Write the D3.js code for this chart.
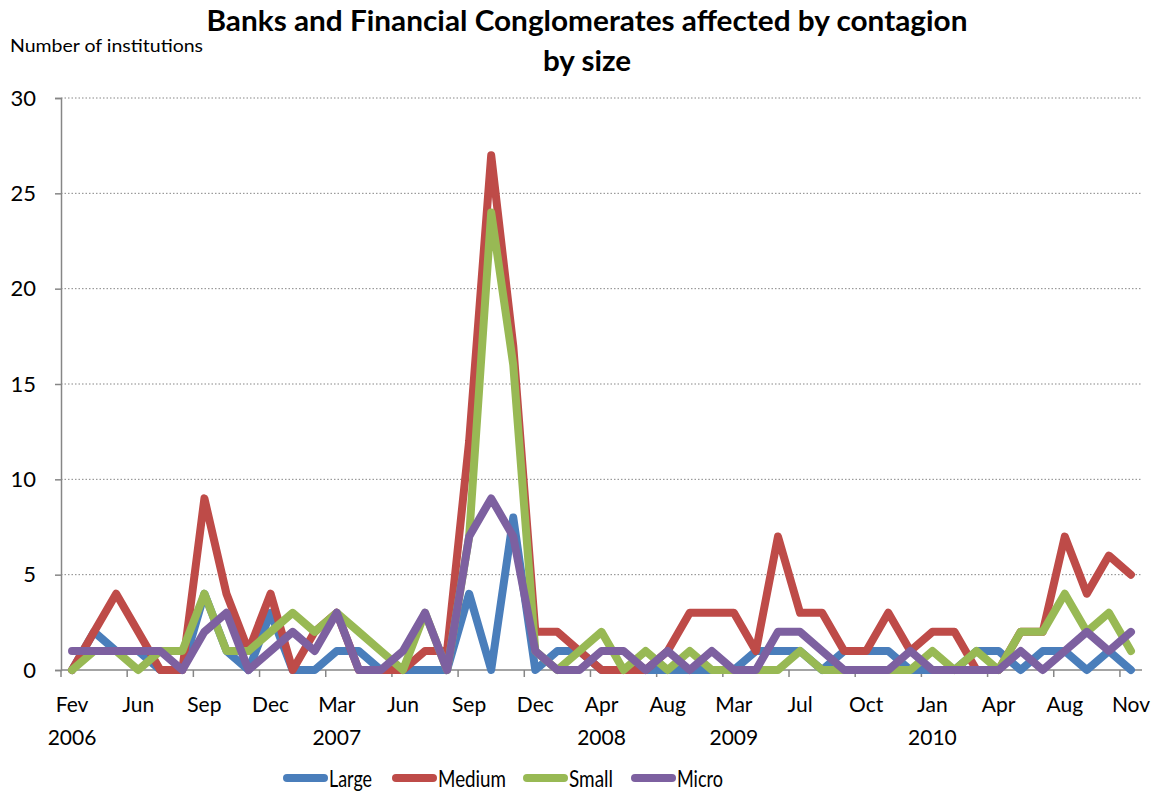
<!DOCTYPE html>
<html><head><meta charset="utf-8">
<script src="https://cdn.jsdelivr.net/npm/d3@7"></script>
<style>
html,body{margin:0;padding:0;background:#fff;}
svg{display:block;font-family:Lato,"Open Sans",sans-serif;}
</style></head>
<body><svg id="chart" width="1163" height="796"></svg>
<script>
const months = ["Fev","Apr","May","Jun","Jul","Aug","Sep","Oct","Nov","Dec","Jan","Fev","Mar","Apr","May","Jun","Jul","Aug","Sep","Oct","Nov","Dec","Jan","Mar","Apr","May","Jun","Aug","Sep","Nov","Mar","Apr","May","Jul","Aug","Sep","Oct","Nov","Dec","Jan","Fev","Mar","Apr","May","Jul","Aug","Sep","Oct","Nov"];
const yearLabels = {0:"2006",12:"2007",24:"2008",30:"2009",39:"2010"};
const large  = [0,2,1,1,0,0,4,1,0,3,0,0,1,1,0,0,0,0,4,0,8,0,1,1,0,0,0,0,0,0,0,1,1,1,0,1,1,1,0,0,0,1,1,0,1,1,0,1,0];
const medium = [0,2,4,2,0,0,9,4,1,4,0,2,3,0,0,0,1,1,12,27,17,2,2,1,0,0,0,1,3,3,3,1,7,3,3,1,1,3,1,2,2,0,0,2,2,7,4,6,5];
const small  = [0,1,1,0,1,1,4,1,1,2,3,2,3,2,1,0,3,0,7,24,16,1,0,1,2,0,1,0,1,0,0,0,0,1,0,0,0,0,0,1,0,1,0,2,2,4,2,3,1];
const micro  = [1,1,1,1,1,0,2,3,0,1,2,1,3,0,0,1,3,0,7,9,7,1,0,0,1,1,0,1,0,1,0,0,2,2,1,0,0,0,1,0,0,0,0,1,0,1,2,1,2];
const seriesNames = ["Large","Medium","Small","Micro"];
const seriesColors = ["#4A7EBB","#BE4B48","#98B954","#7D60A0"];
const yTicks = [0,5,10,15,20,25,30];
const titleLines = ["Banks and Financial Conglomerates affected by contagion","by size"];
const yAxisTitle = "Number of institutions";

const svg = d3.select("#chart");
const L = 61, R = 1142, T = 98, B = 670;
const n = months.length;
const x = d3.scaleBand().domain(d3.range(n)).range([L, R]).paddingInner(0).paddingOuter(0);
const y = d3.scaleLinear().domain([0, 30]).range([B, T]);
const grey = "#868686";

// fit text horizontally to a target width (Calibri-like narrow glyphs)
function fitWidth(sel, w) {
  sel.each(function() {
    const el = this, tw = el.getComputedTextLength();
    if (tw > 0) el.setAttribute("textLength", w), el.setAttribute("lengthAdjust", "spacingAndGlyphs");
  });
}

// gridlines
svg.append("g").selectAll("line").data(yTicks.filter(d => d > 0)).join("line")
  .attr("x1", L).attr("x2", R).attr("y1", d => y(d)).attr("y2", d => y(d))
  .attr("stroke", grey).attr("stroke-width", 1).attr("stroke-dasharray", "1.5,2");

// y axis
const yAxis = d3.axisLeft(y).tickValues(yTicks).tickSize(6).tickPadding(8);
const gy = svg.append("g").attr("transform", `translate(${L},0)`).call(yAxis);
gy.select(".domain").attr("stroke", grey).attr("stroke-width", 1.5);
gy.selectAll(".tick line").attr("stroke", grey).attr("stroke-width", 1.5);
gy.selectAll(".tick text").attr("font-size", 22).attr("fill", "#000").attr("font-family", "Lato").attr("dx", -11);

// x axis
const bw = x.bandwidth();
const gx = svg.append("g");
gx.append("line").attr("x1", L).attr("x2", R).attr("y1", B).attr("y2", B).attr("stroke", grey).attr("stroke-width", 1.5);
const tickIdx = d3.range(0, n, 3);
gx.selectAll("line.tk").data(tickIdx).join("line").attr("class","tk")
  .attr("x1", d => x(d)).attr("x2", d => x(d)).attr("y1", B).attr("y2", B + 7)
  .attr("stroke", grey).attr("stroke-width", 1.5);
gx.selectAll("text.mo").data(tickIdx).join("text").attr("class","mo")
  .attr("x", d => x(d) + bw / 2).attr("y", 712).attr("text-anchor", "middle")
  .attr("font-size", 21).text(d => months[d]);
gx.selectAll("text.yr").data(Object.keys(yearLabels).map(Number)).join("text").attr("class","yr")
  .attr("x", d => x(d) + bw / 2).attr("y", 745).attr("text-anchor", "middle")
  .attr("font-size", 21).text(d => yearLabels[d]);

// lines
const allSeries = [large, medium, small, micro];
const line = d3.line().x((d, i) => x(i) + bw / 2).y(d => y(d));
svg.append("g").selectAll("path").data(allSeries).join("path")
  .attr("d", d => line(d)).attr("fill", "none")
  .attr("stroke", (d, i) => seriesColors[i]).attr("stroke-width", 8)
  .attr("stroke-linejoin", "round").attr("stroke-linecap", "round");

// titles
const tt = svg.append("g").selectAll("text").data(titleLines).join("text")
  .attr("x", 587).attr("y", (d, i) => 31 + i * 40).attr("text-anchor", "middle")
  .attr("font-size", 28).attr("font-weight", "bold").text(d => d);
fitWidth(tt.filter((d, i) => i === 0), 761);
fitWidth(tt.filter((d, i) => i === 1), 88);
const yt = svg.append("text").attr("x", 10).attr("y", 52).attr("font-size", 18).text(yAxisTitle);
fitWidth(yt, 193);

// legend
const legX = [283, 392, 523, 631];
const legW = [43, 68, 44, 46];
const lg = svg.append("g").selectAll("g").data(seriesNames).join("g")
  .attr("transform", (d, i) => `translate(${legX[i]},778)`);
lg.append("line").attr("x1", 4).attr("x2", 41).attr("y1", 0).attr("y2", 0)
  .attr("stroke", (d, i) => seriesColors[i]).attr("stroke-width", 8).attr("stroke-linecap", "round");
lg.append("text").attr("x", 46).attr("y", 9).attr("font-size", 23).text(d => d)
  .each(function(d, i) { fitWidth(d3.select(this), legW[i]); });
</script>
</body></html>
